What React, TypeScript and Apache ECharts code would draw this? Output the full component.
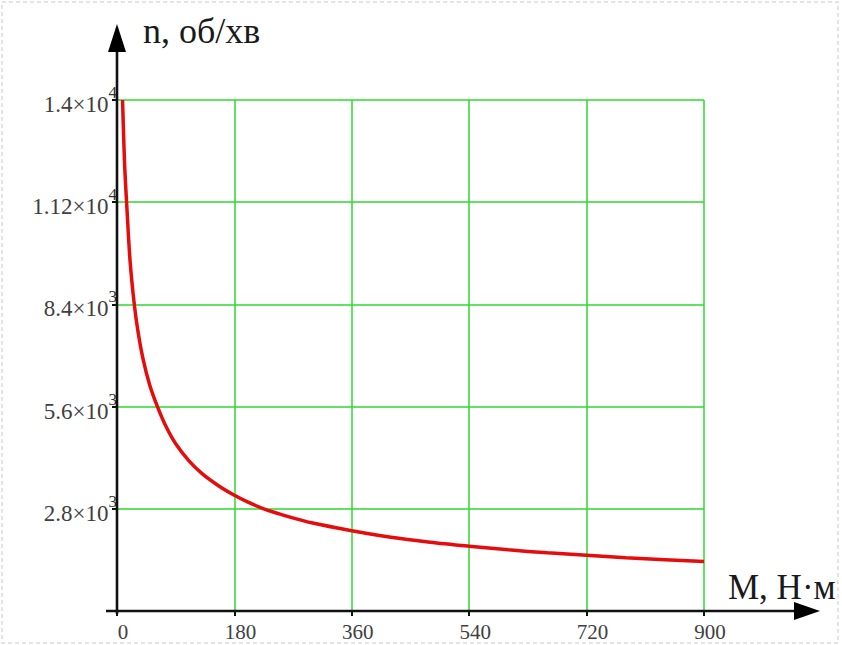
import React, { useEffect, useRef } from "react";
import * as echarts from "echarts";

// Torque M (Н·м) and speed n (об/хв)
const mValues = [8.5, 9, 10, 12, 15, 20, 26.5, 32, 40, 50, 62, 75, 90, 110, 130, 155, 180, 200, 225, 260, 300, 360, 420, 480, 540, 600, 660, 720, 780, 840, 900];
const nValues = [14000, 13700, 13100, 12100, 11100, 9600, 8400, 7680, 6900, 6200, 5600, 5060, 4580, 4120, 3770, 3440, 3170, 2990, 2800, 2600, 2410, 2200, 2020, 1885, 1775, 1675, 1595, 1530, 1460, 1405, 1355];

const xTickLabels = ["0", "180", "360", "540", "720", "900"];
const yTickValues = [0, 2800, 5600, 8400, 11200, 14000];
const yTickMantissa = ["", "2.8", "5.6", "8.4", "1.12", "1.4"];
const yTickExponent = ["", "3", "3", "3", "4", "4"];

const xAxisTitle = "M, Н·м";
const yAxisTitle = "n, об/хв";

export default function App() {
  const ref = useRef<HTMLDivElement>(null);
  useEffect(() => {
    if (!ref.current) return;
    const chart = echarts.init(ref.current, null, { renderer: "svg" });
    const serif = '"Liberation Serif", "Times New Roman", serif';
    const gridLeft = 117;
    const gridTop = 100;
    const gridW = 587;
    const gridH = 511;
    const ax0 = gridLeft;
    const ay0 = gridTop + gridH;
    chart.setOption({
      animation: false,
      backgroundColor: "#ffffff",
      grid: { left: gridLeft, top: gridTop, width: gridW, height: gridH, containLabel: false },
      xAxis: {
        type: "value",
        min: 0,
        max: 900,
        interval: 180,
        axisLine: { show: false },
        axisTick: { show: true, length: 5, lineStyle: { color: "#111", width: 2 } },
        splitLine: { show: true, lineStyle: { color: "#2ed82e", width: 1.5 } },
        axisLabel: {
          margin: 10,
          fontFamily: serif,
          fontSize: 21,
          color: "#404040",
          padding: [0, 0, 0, 12],
          formatter: (v: number) => {
            const i = Math.round(v / 180);
            return xTickLabels[i] ?? "";
          },
        },
      },
      yAxis: {
        type: "value",
        min: 0,
        max: 14000,
        interval: 2800,
        axisLine: { show: false },
        axisTick: { show: true, length: 5, lineStyle: { color: "#111", width: 2 } },
        splitLine: { show: true, lineStyle: { color: "#2ed82e", width: 1.5 } },
        axisLabel: {
          margin: 0,
          fontFamily: serif,
          color: "#404040",
          formatter: (v: number) => {
            const i = yTickValues.indexOf(v);
            if (i < 0 || !yTickMantissa[i]) return "";
            return `{b|${yTickMantissa[i]}×10}{s|${yTickExponent[i]}}`;
          },
          rich: {
            b: { fontFamily: serif, fontSize: 23, color: "#404040", lineHeight: 32, verticalAlign: "bottom" },
            s: { fontFamily: serif, fontSize: 17, color: "#333333", lineHeight: 32, verticalAlign: "top" },
          },
        },
      },
      series: [
        {
          type: "line",
          data: mValues.map((m, i) => [m, nValues[i]]),
          showSymbol: false,
          smooth: 0.3,
          lineStyle: { color: "#e40c0c", width: 3.5 },
          z: 5,
        },
      ],
      graphic: [
        {
          type: "rect",
          shape: { x: 2, y: 2, width: 836, height: 641 },
          style: { fill: "none", stroke: "#dcdcdc", lineWidth: 1.5, lineDash: [4, 3] },
          silent: true,
          z: 0,
        },
        {
          type: "line",
          shape: { x1: ax0, y1: ay0 + 3, x2: ax0, y2: 50 },
          style: { stroke: "#111", lineWidth: 2.6 },
          z: 10,
        },
        {
          type: "polygon",
          shape: { points: [[ax0, 24], [ax0 - 9, 52], [ax0 + 9, 52]] },
          style: { fill: "#000" },
          z: 10,
        },
        {
          type: "line",
          shape: { x1: ax0 - 11, y1: ay0, x2: 798, y2: ay0 },
          style: { stroke: "#111", lineWidth: 2.6 },
          z: 10,
        },
        {
          type: "polygon",
          shape: { points: [[820, ay0], [794, ay0 - 9], [794, ay0 + 9]] },
          style: { fill: "#000" },
          z: 10,
        },
        {
          type: "text",
          x: 143,
          y: 31,
          style: { text: yAxisTitle, font: `36px ${serif}`, fill: "#1a1a1a", verticalAlign: "middle", align: "left" },
          z: 10,
        },
        {
          type: "text",
          x: 728,
          y: 587,
          style: { text: xAxisTitle, font: `35px ${serif}`, fill: "#1a1a1a", verticalAlign: "middle", align: "left" },
          z: 10,
        },
      ],
    });
    return () => chart.dispose();
  }, []);
  return (
    <div
      ref={ref}
      style={{ position: "fixed", left: 0, top: 0, width: 842, height: 645, background: "#fff" }}
    />
  );
}
